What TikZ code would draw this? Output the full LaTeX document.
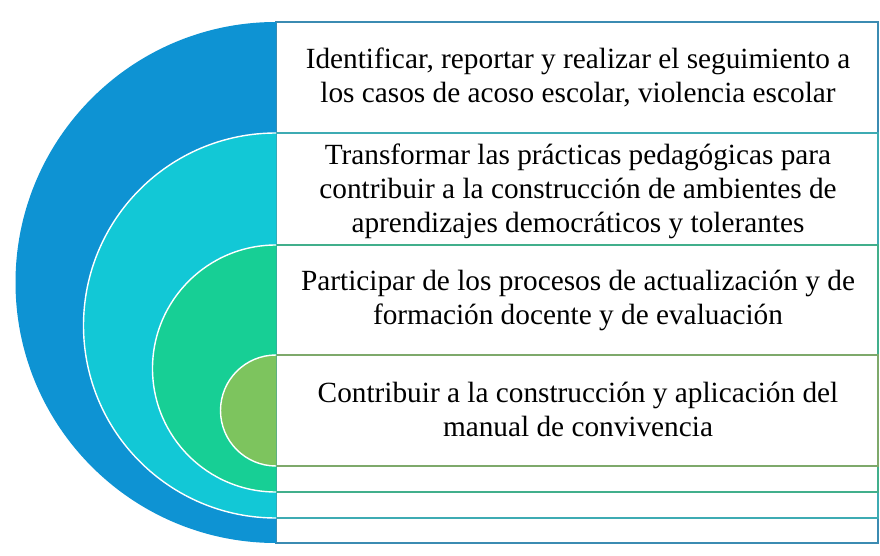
\documentclass[tikz,border=0pt]{standalone}
\usepackage{fontspec}
\setmainfont{Liberation Serif}
\definecolor{bleu}{HTML}{0E93D3}
\definecolor{turquoise}{HTML}{12C8D6}
\definecolor{vert}{HTML}{17CF95}
\definecolor{vertclair}{HTML}{7DC45E}
\begin{document}
\begin{tikzpicture}[x=0.03cm,y=0.03cm]
		\tikzstyle{cadre}=[line width=1.2pt,fill=white]
		\tikzstyle{texte}=[align=center,font=\fontsize{25}{29}\selectfont,inner sep=0pt]
		\fill[white] (0,0) rectangle (880,555);
		% rectangles
		\draw[cadre,draw=bleu!60!gray] (276,12) rectangle (878,533);
		\draw[cadre,draw=turquoise!60!gray] (276,37) rectangle (878,422);
		\draw[cadre,draw=vert!60!gray] (276,63) rectangle (878,310);
		\draw[cadre,draw=vertclair!60!gray] (276,89) rectangle (878,200);
		% demi-disques
		\fill[bleu] (276,533) arc[start angle=90,end angle=270,radius=260.5*0.03cm] -- cycle;
		\filldraw[turquoise,draw=white,line width=1.2pt] (276,422) arc[start angle=90,end angle=270,radius=192.5*0.03cm];
		\filldraw[vert,draw=white,line width=1.2pt] (276,310) arc[start angle=90,end angle=270,radius=123.5*0.03cm];
		\filldraw[vertclair,draw=white,line width=1.2pt] (276,200) arc[start angle=90,end angle=270,radius=55.5*0.03cm];
		\node[texte] (un) at (578,478) {Identificar, reportar y realizar el seguimiento a\\los casos de acoso escolar, violencia escolar}; % haut
		\node[texte] (deux) at (578,364) {Transformar las prácticas pedagógicas para\\contribuir a la construcción de ambientes de\\aprendizajes democráticos y tolerantes};
		\node[texte] (trois) at (578,255) {Participar de los procesos de actualización y de\\formación docente y de evaluación};
		\node[texte] (quatre) at (578,146) {Contribuir a la construcción y aplicación del\\manual de convivencia}; % bas
	\end{tikzpicture}
\end{document}
